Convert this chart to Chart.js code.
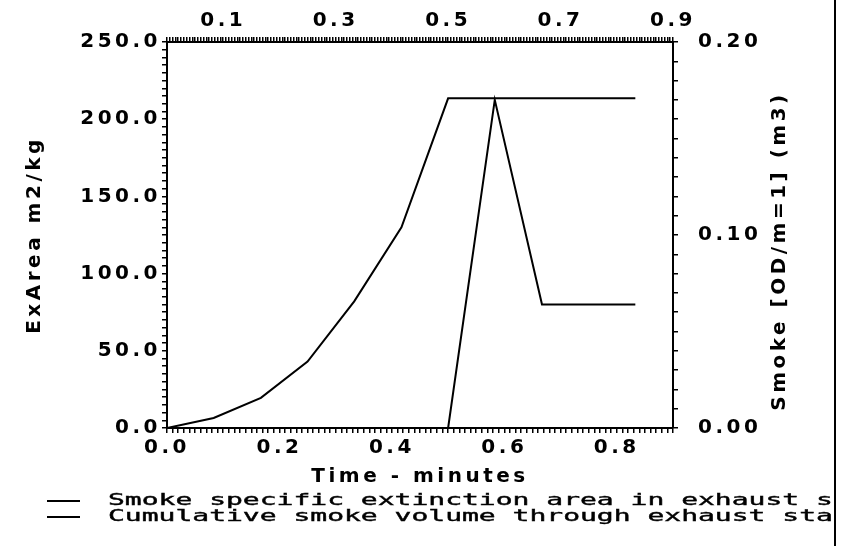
<!DOCTYPE html>
<html>
<head>
<meta charset="utf-8">
<script src="https://cdn.jsdelivr.net/npm/chart.js@4/dist/chart.umd.min.js"></script>
<style>
    html, body { margin: 0; padding: 0; background: #fff; }
    #wrap { position: relative; width: 841px; height: 546px; overflow: hidden; background: #fff; }
    #chart { position: absolute; left: 0; top: 0; }
    #legend { position: absolute; left: 0; top: 490px; width: 833px; height: 40px; overflow: hidden; }
    .row { position: absolute; left: 0; width: 2000px; height: 16px; white-space: nowrap; }
    .row .sym { position: absolute; left: 47px; top: 8px; width: 33px; height: 0; border-top: 2px solid #000; }
    .row .txt { position: absolute; left: 108px; top: 0; font: 16px 'DejaVu Sans Mono', monospace; line-height: 16px;
        transform: scaleX(1.75); transform-origin: 0 0; color: #000; -webkit-text-stroke: 0.4px #000; }
    #edge { position: absolute; left: 834px; top: 0; width: 2px; height: 546px; background: #000; }
</style>
</head>
<body>
<div id="wrap">
    <canvas id="chart" width="841" height="546"></canvas>
    <div id="legend"></div>
    <div id="edge"></div>
</div>
<script>
// data (time in minutes)
const timeMin = [0, 0.083, 0.167, 0.25, 0.333, 0.417, 0.5, 0.583, 0.667, 0.75, 0.833];
const exArea = [0, 6.5, 19.5, 43, 82, 130, 213.5, 213.5, 213.5, 213.5, 213.5];
const smokeVol = [null, null, null, null, null, null, 0, 0.17, 0.064, 0.064, 0.064];
const seriesNames = [
    'Smoke specific extinction area in exhaust stack',
    'Cumulative smoke volume through exhaust stack'
];

// tick labels
const bottomTicks = [0, 0.2, 0.4, 0.6, 0.8];
const topTicks = [0.1, 0.3, 0.5, 0.7, 0.9];
const leftTicks = [0, 50, 100, 150, 200, 250];
const rightTicks = [0, 0.1, 0.2];

const xTitle = 'Time - minutes';
const leftTitle = 'ExArea m2/kg';
const rightTitle = 'Smoke [OD/m=1] (m3)';

const font = { family: "'DejaVu Sans', sans-serif", size: 20, weight: 'bold' };
const spacing = '3.5px';

function minorTicks(max, step) {
    const n = Math.round(max / step);
    const out = [];
    for (let i = 0; i <= n; i++) out.push({ value: +(i * step).toFixed(4) });
    return out;
}

function labelIf(list, digits) {
    return (v) => list.some(t => Math.abs(t - v) < 1e-6) ? Number(v).toFixed(digits) : '';
}

const axisBase = {
    type: 'linear',
    grid: { drawOnChartArea: false, drawTicks: true, tickLength: 5, color: '#000', lineWidth: 1.5 },
    border: { display: true, color: '#000', width: 2 }
};

const tickBase = { autoSkip: false, maxRotation: 0, minRotation: 0, color: '#000', font: font };

// canvas letter spacing to mimic the wide plotter lettering
const plotterText = {
    id: 'plotterText',
    beforeLayout(chart) { chart.ctx.letterSpacing = spacing; },
    beforeDraw(chart) { chart.ctx.letterSpacing = spacing; },
    afterDraw(chart) {
        const ctx = chart.ctx;
        const area = chart.chartArea;
        const s = chart.scales.y2;
        ctx.save();
        ctx.letterSpacing = spacing;
        ctx.translate(s.right - 61, (area.top + area.bottom) / 2 + 16);
        ctx.rotate(-Math.PI / 2);
        ctx.font = "bold 20px 'DejaVu Sans'";
        ctx.fillStyle = '#000';
        ctx.textAlign = 'center';
        ctx.textBaseline = 'middle';
        ctx.fillText(rightTitle, 0, 0);
        ctx.restore();
    }
};

const chart = new Chart(document.getElementById('chart'), {
    type: 'line',
    data: {
        datasets: [{
            label: seriesNames[0],
            data: timeMin.map((t, i) => ({ x: t, y: exArea[i] })),
            xAxisID: 'x', yAxisID: 'y',
            borderColor: '#000', borderWidth: 2, pointRadius: 0, tension: 0, fill: false
        }, {
            label: seriesNames[1],
            data: timeMin.map((t, i) => ({ x: t, y: smokeVol[i] })),
            xAxisID: 'x', yAxisID: 'y2',
            borderColor: '#000', borderWidth: 2, pointRadius: 0, tension: 0, fill: false
        }]
    },
    options: {
        responsive: false,
        animation: false,
        devicePixelRatio: 1,
        layout: { padding: { left: 0, right: 0, top: 0, bottom: 57 } },
        plugins: { legend: { display: false }, tooltip: { enabled: false } },
        scales: {
            x: {
                ...axisBase, axis: 'x', position: 'bottom', min: 0, max: 0.9,
                afterBuildTicks: s => { s.ticks = minorTicks(0.9, 0.01); },
                afterFit: s => { s.height = 61; },
                ticks: { ...tickBase, padding: 3, callback: labelIf(bottomTicks, 1) },
                title: { display: true, text: xTitle, color: '#000', font: font, padding: { top: 0, bottom: 0 } }
            },
            x2: {
                ...axisBase, axis: 'x', position: 'top', min: 0, max: 0.9,
                afterBuildTicks: s => { s.ticks = minorTicks(0.9, 0.005); },
                afterFit: s => { s.height = 42; },
                ticks: { ...tickBase, padding: 4, callback: labelIf(topTicks, 1) }
            },
            y: {
                ...axisBase, axis: 'y', position: 'left', min: 0, max: 250,
                afterBuildTicks: s => { s.ticks = minorTicks(250, 5); },
                afterFit: s => { s.width = 167; },
                ticks: { ...tickBase, padding: 1, callback: labelIf(leftTicks, 1) },
                title: { display: true, text: leftTitle, color: '#000', font: font, padding: { top: 23, bottom: 0 } }
            },
            y2: {
                ...axisBase, axis: 'y', position: 'right', min: 0, max: 0.2,
                afterBuildTicks: s => { s.ticks = minorTicks(0.2, 0.01); },
                afterFit: s => { s.width = 168; },
                ticks: { ...tickBase, padding: 20, callback: labelIf(rightTicks, 2) }
            }
        }
    },
    plugins: [plotterText]
});

// legend rows under the plot
const legend = document.getElementById('legend');
seriesNames.forEach((name, i) => {
    const row = document.createElement('div');
    row.className = 'row';
    row.style.top = (2 + i * 16) + 'px';
    row.innerHTML = '<div class="sym"></div><span class="txt"></span>';
    row.querySelector('.txt').textContent = name;
    legend.appendChild(row);
});
</script>
</body>
</html>
